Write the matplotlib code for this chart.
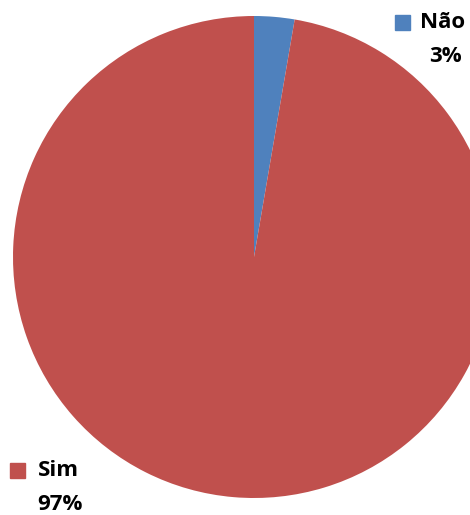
import matplotlib.pyplot as plt
from matplotlib.patches import Rectangle

labels = ["Não", "Sim"]
values = [2.7, 97.3]
pct_labels = ["3%", "97%"]
colors = ["#4F81BD", "#C0504D"]

fig = plt.figure(figsize=(4.7, 5.15), dpi=100)
ax = fig.add_axes([0, 0, 1, 1])

# pie is slightly cut off on the right, like the original
ax.pie(values, colors=colors, startangle=90, counterclock=False,
       center=(254, 258), radius=241, frame=True,
       wedgeprops=dict(linewidth=0))
ax.set_xlim(0, 470)
ax.set_ylim(0, 515)
ax.set_aspect("equal")
ax.axis("off")

font = dict(family="Open Sans", fontweight="bold", fontsize=16, color="black")

# legend-style labels (positions given from the top of the image)
def label(sq_x, sq_y, name, tx, ty, pct, px, py, color):
    ax.add_patch(Rectangle((sq_x, 515 - sq_y - 15), 15, 15, color=color))
    ax.text(tx, 515 - ty, name, ha="left", va="center", **font)
    ax.text(px, 515 - py, pct, ha="center", va="center", **font)

label(395, 15, labels[0], 420, 23, pct_labels[0], 445, 57, colors[0])
label(10, 463, labels[1], 38, 471, pct_labels[1], 60, 505, colors[1])

fig.savefig("out.png", dpi=100)
